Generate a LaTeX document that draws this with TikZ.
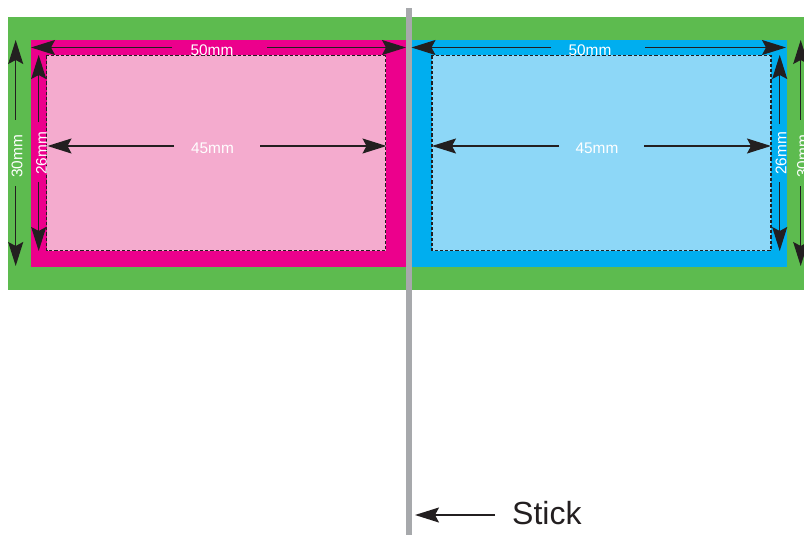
\documentclass[tikz,border=0pt]{standalone}
\usepackage{fontspec}
\setmainfont{Liberation Sans}
\usetikzlibrary{arrows.meta}
\definecolor{grn}{HTML}{5DBB4F}
\definecolor{mag}{HTML}{EC008C}
\definecolor{cyn}{HTML}{00AEEF}
\definecolor{lpink}{HTML}{F4ABCE}
\definecolor{lblue}{HTML}{8DD7F7}
\definecolor{stk}{HTML}{A7A9AC}
\definecolor{ink}{HTML}{231F20}
\tikzset{
  dim/.style={draw=ink,line width=1.25pt,-{Stealth[length=24pt,width=15pt,inset=4pt]}},
  lab/.style={text=white,font=\fontsize{15.4}{17}\selectfont,inner sep=0pt},
  safe/.style={draw=ink,line width=1.5pt,dash pattern=on 3.2pt off 2pt},
}
\begin{document}
\begin{tikzpicture}[x=1pt,y=-1pt]
\useasboundingbox (0,0) rectangle (804,535);
\fill[grn] (8,17) rectangle (804,290);
\fill[mag] (31,40) rectangle (406,267);
\fill[cyn] (412,40) rectangle (787,267);
\fill[lpink] (46.5,55.5) rectangle (385.5,250.5);
\fill[lblue] (432,55.5) rectangle (771,250.5);
\draw[safe] (46.5,55.5) rectangle (385.5,250.5);
\draw[safe] (432,55.5) rectangle (771,250.5);
\fill[stk] (406,8) rectangle (412,535);
% labels
\node[lab] (w1) at (212,50) {50mm};
\node[lab] (w2) at (590,50) {50mm};
\node[lab] (i1) at (212.5,148) {45mm};
\node[lab] (i2) at (597,148) {45mm};
\node[lab,rotate=90] (h1) at (17,156.5) {30mm};
\node[lab,rotate=90] (s1) at (41.5,153.5) {26mm};
\node[lab,rotate=90] (s2) at (781,153.5) {26mm};
\node[lab,rotate=90] (h2) at (802.5,156.5) {30mm};
\node[text=ink,font=\fontsize{32}{36}\selectfont,inner sep=0pt,anchor=west] (stick) at (512,513.5) {Stick};
% anchors
\coordinate (a1) at (31,47.5); \coordinate (a1s) at (172,47.5);
\coordinate (a2) at (406,47.5); \coordinate (a2s) at (267,47.5);
\coordinate (b1) at (411.5,47.5); \coordinate (b1s) at (551,47.5);
\coordinate (b2) at (786,47.5); \coordinate (b2s) at (645,47.5);
\coordinate (c1) at (47.5,146); \coordinate (c1s) at (174,146);
\coordinate (c2) at (386.5,146); \coordinate (c2s) at (260,146);
\coordinate (d1) at (432,146); \coordinate (d1s) at (559,146);
\coordinate (d2) at (771,146); \coordinate (d2s) at (644,146);
\coordinate (e1) at (15.7,40); \coordinate (e1s) at (15.7,120);
\coordinate (e2) at (15.7,266); \coordinate (e2s) at (15.7,186);
\coordinate (f1) at (38.7,55); \coordinate (f1s) at (38.7,122);
\coordinate (f2) at (38.7,251); \coordinate (f2s) at (38.7,182);
\coordinate (g1) at (779.7,55); \coordinate (g1s) at (779.7,124);
\coordinate (g2) at (779.7,251); \coordinate (g2s) at (779.7,182);
\coordinate (k1) at (800.7,40); \coordinate (k1s) at (800.7,120);
\coordinate (k2) at (800.7,266); \coordinate (k2s) at (800.7,186);
\coordinate (st) at (415,515); \coordinate (sts) at (495,515);
\foreach \p/\q in {a1s/a1,a2s/a2,b1s/b1,b2s/b2,c1s/c1,c2s/c2,d1s/d1,d2s/d2,e1s/e1,e2s/e2,f1s/f1,f2s/f2,g1s/g1,g2s/g2,k1s/k1,k2s/k2}
  \draw[dim] (\p) -- (\q);
\draw[dim,line width=1.6pt] (sts) -- (st);
\end{tikzpicture}
\end{document}
